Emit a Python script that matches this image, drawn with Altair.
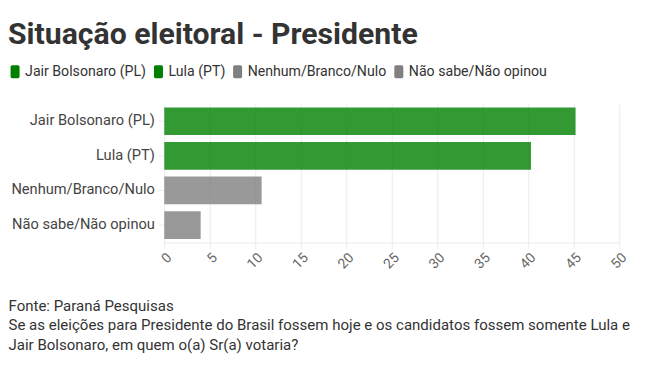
import altair as alt
import pandas as pd

categories = ["Jair Bolsonaro (PL)", "Lula (PT)", "Nenhum/Branco/Nulo", "Não sabe/Não opinou"]
values = [45.2, 40.3, 10.7, 4.0]
colors = ["#008000", "#008000", "#808080", "#808080"]
x_ticks = [0, 5, 10, 15, 20, 25, 30, 35, 40, 45, 50]
title_text = "Situação eleitoral - Presidente"
footer = [
    "Fonte: Paraná Pesquisas",
    "Se as eleições para Presidente do Brasil fossem hoje e os candidatos fossem somente Lula e",
    "Jair Bolsonaro, em quem o(a) Sr(a) votaria?",
]

df = pd.DataFrame({"categoria": categories, "valor": values})

FONT = "Roboto, sans-serif"
rounded = "M-0.45,-1 H0.45 Q0.7,-1 0.7,-0.75 V0.75 Q0.7,1 0.45,1 H-0.45 Q-0.7,1 -0.7,0.75 V-0.75 Q-0.7,-1 -0.45,-1 Z"

chart = (
    alt.Chart(df)
    .mark_bar(opacity=0.8)
    .encode(
        x=alt.X(
            "valor:Q",
            scale=alt.Scale(domain=[0, 50], nice=False),
            axis=alt.Axis(
                values=x_ticks,
                labelAngle=315,
                labelFontSize=14,
                labelColor="#666666",
                labelFont=FONT,
                grid=True,
                gridColor="#ebebeb",
                domainColor="#ebebeb",
                tickColor="#ebebeb",
                tickSize=6,
                title=footer,
                titleX=-158,
                titleY=57,
                titleAlign="left",
                titleAnchor="start",
                titleBaseline="top",
                titleFontSize=15.2,
                titleFontWeight="normal",
                titleColor="#333333",
                titleFont=FONT,
                titleLineHeight=19.5,
            ),
        ),
        y=alt.Y(
            "categoria:N",
            sort=categories,
            scale=alt.Scale(paddingInner=0.2, paddingOuter=0.1),
            axis=alt.Axis(
                title=None,
                labelFontSize=14.8,
                labelColor="#444444",
                labelFont=FONT,
                domain=False,
                tickColor="#ebebeb",
                tickSize=6,
                labelPadding=4,
            ),
        ),
        color=alt.Color(
            "categoria:N",
            sort=categories,
            scale=alt.Scale(domain=categories, range=colors),
            legend=alt.Legend(
                title=None,
                orient="none",
                legendX=-158,
                legendY=-40,
                direction="horizontal",
                symbolType=rounded,
                symbolSize=169,
                symbolOpacity=1,
                symbolStrokeWidth=0,
                labelFontSize=14.3,
                labelColor="#333333",
                labelFont=FONT,
                columnPadding=5,
                labelOffset=3,
            ),
        ),
    )
    .properties(
        width=460,
        height=140,
        padding={"left": 0, "top": 10, "right": 10, "bottom": 10},
        background="white",
        title=alt.TitleParams(
            text=title_text,
            anchor="start",
            frame="bounds",
            fontSize=30.5,
            fontWeight="bold",
            color="#333333",
            font=FONT,
            offset=14,
        ),
    )
    .configure_view(stroke=None)
)

chart.save("out.html", embed_options={"renderer": "svg", "actions": False})
